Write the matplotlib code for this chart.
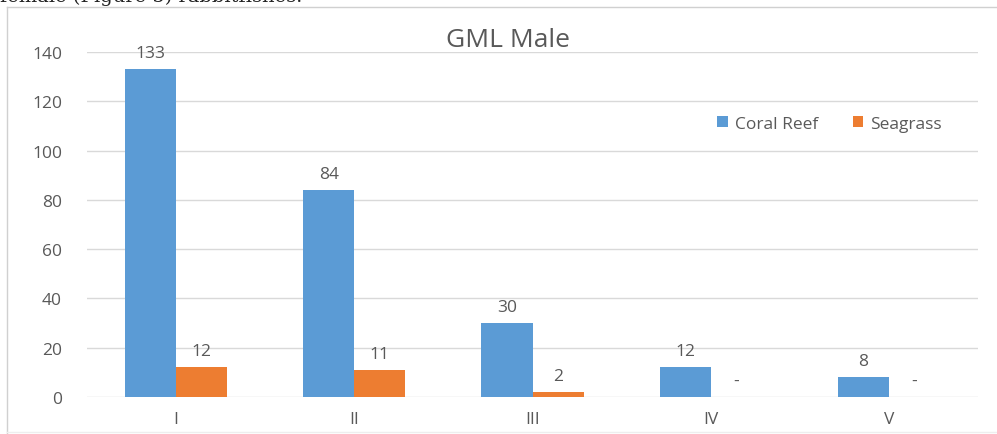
import matplotlib
matplotlib.use("Agg")
import matplotlib.pyplot as plt
import numpy as np
from matplotlib.lines import Line2D

# Data
categories = ["I", "II", "III", "IV", "V"]
coral_reef = [133, 84, 30, 12, 8]
seagrass = [12, 11, 2, 0, 0]
seagrass_labels = ["12", "11", "2", "-", "-"]
coral_labels = [str(v) for v in coral_reef]

BLUE = "#5B9BD5"
ORANGE = "#ED7D31"
TEXT = "#595959"
GRID = "#D9D9D9"

plt.rcParams["font.family"] = ["Open Sans", "DejaVu Sans"]

fig = plt.figure(figsize=(9.97, 4.35), dpi=100)
ax = fig.add_axes([87 / 997, 37 / 435, 891 / 997, 345 / 435])

x = np.arange(len(categories))
width = 0.287
b1 = ax.bar(x - width / 2, coral_reef, width, color=BLUE, label="Coral Reef", zorder=3)
b2 = ax.bar(x + width / 2, seagrass, width, color=ORANGE, label="Seagrass", zorder=3)

for bars, labels in ((b1, coral_labels), (b2, seagrass_labels)):
    for rect, lab in zip(bars, labels):
        ax.annotate(lab, (rect.get_x() + rect.get_width() / 2, rect.get_height()),
                    xytext=(0, 6), textcoords="offset points", ha="center", va="bottom",
                    fontsize=12.5, color=TEXT)

ax.set_xlim(-0.5, len(categories) - 0.5)
ax.set_ylim(0, 140)
ax.set_yticks(range(0, 141, 20))
ax.set_xticks(x)
ax.set_xticklabels(categories)
ax.tick_params(axis="both", length=0, labelsize=12.5, labelcolor=TEXT)
ax.tick_params(axis="x", pad=10)
ax.tick_params(axis="y", pad=18)
ax.grid(axis="y", color=GRID, linewidth=1, zorder=0)
for s in ax.spines.values():
    s.set_visible(False)

ax.set_title("GML Male", fontsize=19, color=TEXT, x=0.4725, pad=-17)

ax.legend(loc="upper left", bbox_to_anchor=(0.69, 0.86), ncol=2, frameon=False,
          fontsize=12.5, labelcolor=TEXT, handlelength=0.6, handleheight=0.6,
          handletextpad=0.4, columnspacing=2.0)

# chart border and clipped caption from the page
fig.add_artist(Line2D([7 / 997, 7 / 997], [0, 1 - 8 / 435], color="#D0D0D0",
                      linewidth=1, transform=fig.transFigure))
fig.add_artist(Line2D([7 / 997, 1], [1 - 8 / 435, 1 - 8 / 435], color="#D0D0D0",
                      linewidth=1, transform=fig.transFigure))
fig.add_artist(Line2D([7 / 997, 1], [2 / 435, 2 / 435], color="#EEEEEE",
                      linewidth=1, transform=fig.transFigure))
fig.text(0.0, 1 - 6 / 435, "female (Figure 5) rabbitfishes.", family="DejaVu Serif",
         fontsize=14, va="bottom", ha="left", color="#222222")

fig.savefig("out.png", dpi=100)
